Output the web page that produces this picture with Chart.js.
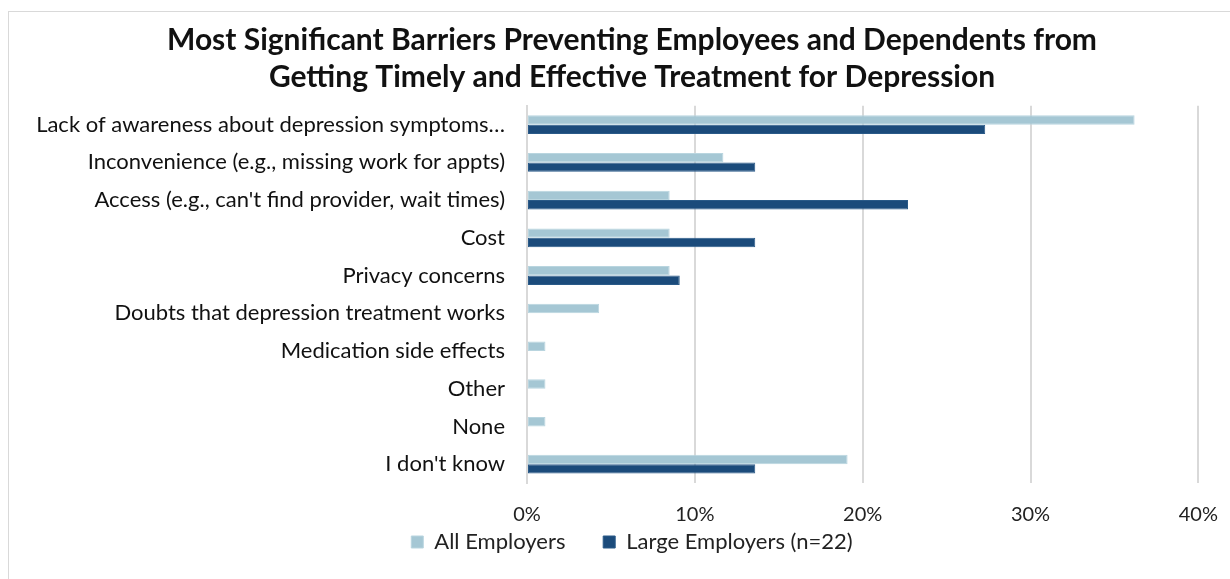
<!DOCTYPE html>
<html>
<head>
<meta charset="utf-8">
<script src="https://cdn.jsdelivr.net/npm/chart.js@4"></script>
<style>
    body { margin: 0; background: #fff; }
    #wrap { position: relative; width: 1230px; height: 579px; overflow: hidden; }
    #frame { position: absolute; left: 8px; top: 11px; width: 1240px; height: 600px; border: 1px solid #d9d9d9; }
    canvas { position: absolute; left: 0; top: 0; }
</style>
</head>
<body>
<div id="wrap">
    <div id="frame"></div>
    <canvas id="myChart" width="1238" height="579"></canvas>
</div>
<script>
'use strict'

// categories, top to bottom
let barriers = [
    'Lack of awareness about depression symptoms\u2026',
    'Inconvenience (e.g., missing work for appts)',
    "Access (e.g., can't find provider, wait times)",
    'Cost',
    'Privacy concerns',
    'Doubts that depression treatment works',
    'Medication side effects',
    'Other',
    'None',
    "I don't know"
];

let allEmployers = [36.2, 11.7, 8.5, 8.5, 8.5, 4.3, 1.1, 1.1, 1.1, 19.1];
let largeEmployers = [27.3, 13.6, 22.7, 13.6, 9.1, 0, 0, 0, 0, 13.6];

let seriesNames = ['All Employers', 'Large Employers (n=22)'];
let xTicks = [0, 10, 20, 30, 40];

const fontName = 'Lato';

let ctx = document.getElementById('myChart').getContext('2d');
let myChart = new Chart(ctx, {
    type: 'bar',
    data: {
        labels: barriers,
        datasets: [{
            label: seriesNames[0],
            data: allEmployers,
            backgroundColor: '#a5c7d4',
            borderColor: '#b9d5df',
            borderWidth: 1,
            borderSkipped: false
        }, {
            label: seriesNames[1],
            data: largeEmployers,
            backgroundColor: '#1b4b7b',
            borderColor: '#2a5a88',
            borderWidth: 1,
            borderSkipped: false
        }]
    },
    options: {
        indexAxis: 'y',
        responsive: false,
        animation: false,
        layout: {
            padding: { left: 26, right: 0, top: 14, bottom: 16 }
        },
        datasets: {
            bar: { categoryPercentage: 0.5, barPercentage: 1 }
        },
        scales: {
            x: {
                min: 0,
                max: 40,
                afterBuildTicks: function (scale) {
                    scale.ticks = xTicks.map(v => ({ value: v }));
                },
                afterFit: function (scale) { scale.height = 44; },
                ticks: {
                    callback: v => v + '%',
                    color: '#222',
                    font: { family: fontName, size: 20 },
                    padding: 20
                },
                grid: { color: '#d9d9d9', lineWidth: 2, drawTicks: false },
                border: { display: false }
            },
            y: {
                afterFit: function (scale) { scale.width = 501; },
                ticks: {
                    color: '#111',
                    font: { family: fontName, size: 22 },
                    padding: 14
                },
                grid: { display: false },
                border: { color: '#d9d9d9', width: 2 }
            }
        },
        plugins: {
            title: {
                display: true,
                text: [
                    'Most Significant Barriers Preventing Employees and Dependents from',
                    'Getting Timely and Effective Treatment for Depression'
                ],
                color: '#111',
                font: { family: fontName, size: 30, weight: 'bold', lineHeight: 1.23 },
                padding: { top: 8, bottom: 10 }
            },
            legend: {
                position: 'bottom',
                labels: {
                    boxWidth: 12,
                    boxHeight: 12,
                    color: '#222',
                    font: { family: fontName, size: 22 },
                    padding: 4,
                    generateLabels: function (chart) {
                        let items = Chart.defaults.plugins.legend.labels.generateLabels(chart);
                        // wider gap after the first entry, like the original legend
                        items[0].text = items[0].text + '\u00a0\u00a0\u00a0\u00a0\u00a0\u00a0';
                        return items;
                    }
                }
            },
            tooltip: { enabled: false }
        }
    }
});
</script>
</body>
</html>
